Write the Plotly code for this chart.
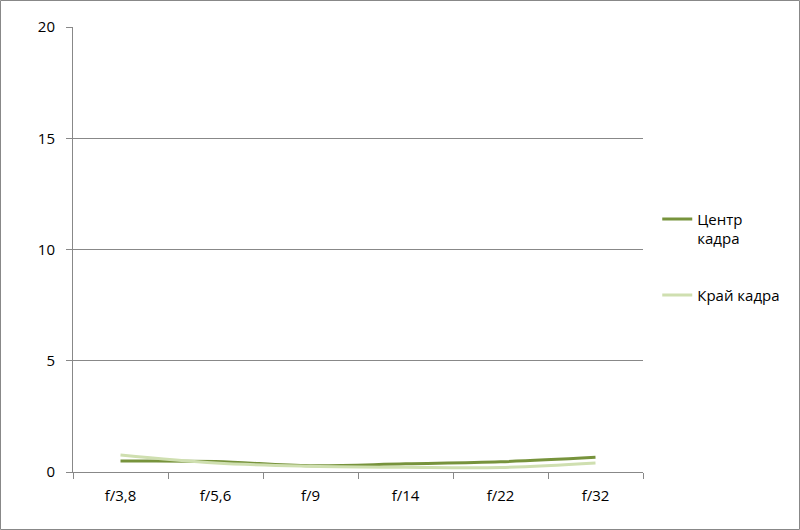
import plotly.graph_objects as go

categories = ["f/3,8", "f/5,6", "f/9", "f/14", "f/22", "f/32"]
center = [0.49, 0.47, 0.28, 0.37, 0.46, 0.66]
edge = [0.76, 0.40, 0.26, 0.21, 0.20, 0.40]
y_ticks = [0, 5, 10, 15, 20]

fig = go.Figure()
fig.add_trace(go.Scatter(x=categories, y=center, mode="lines", name="Центр<br>кадра",
                         legendgroup="a",
                         line=dict(color="#77933c", width=3, shape="spline")))
fig.add_trace(go.Scatter(x=categories, y=edge, mode="lines", name="Край кадра",
                         legendgroup="b",
                         line=dict(color="#cfdfb0", width=3, shape="spline")))

fig.update_layout(
    width=800, height=530,
    margin=dict(l=73, r=157, t=27, b=58),
    paper_bgcolor="white", plot_bgcolor="white",
    font=dict(family="Open Sans, Liberation Sans, sans-serif", size=15, color="#000"),
    xaxis=dict(range=[-0.5, 5.5], showline=True, linecolor="#888", linewidth=1,
               ticks="outside", tickson="boundaries", ticklen=6, tickcolor="#888",
               showgrid=False, zeroline=False, ticklabelstandoff=10),
    yaxis=dict(range=[0, 20], tickvals=y_ticks, showline=True, linecolor="#888", linewidth=1,
               ticks="outside", ticklen=6, tickcolor="#888", gridcolor="#888", gridwidth=1,
               zeroline=False, ticklabelstandoff=8),
    legend=dict(x=1.025, y=0.605, xanchor="left", yanchor="top", tracegroupgap=34,
                valign="top", font=dict(size=15), itemwidth=30),
    shapes=[dict(type="rect", xref="paper", yref="paper", x0=-72.5/570, x1=1+156.5/570,
                 y0=-57.5/445, y1=1+26.5/445, line=dict(color="#888", width=1))],
)

fig.write_html("out.html", post_script="document.body.style.margin='0';",
               config={"displayModeBar": False})
